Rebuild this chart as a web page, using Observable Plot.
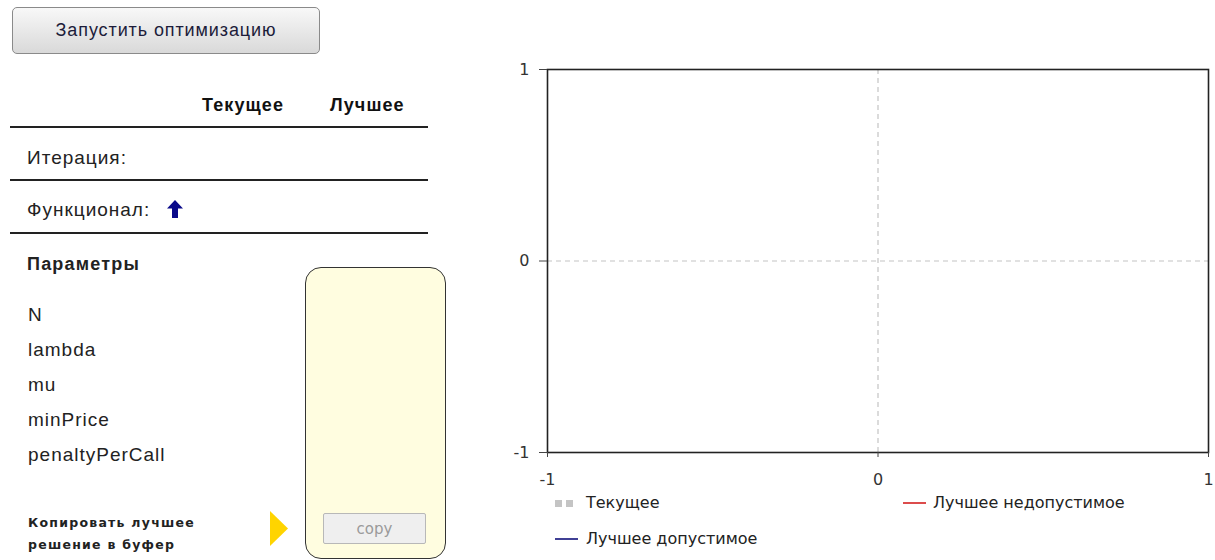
<!DOCTYPE html>
<html>
<head>
<meta charset="utf-8">
<script src="https://cdn.jsdelivr.net/npm/d3@7"></script>
<script src="https://cdn.jsdelivr.net/npm/@observablehq/plot@0.6"></script>
<style>
  html, body { margin: 0; padding: 0; background: #fff; width: 1215px; height: 560px; overflow: hidden; position: relative; font-family: "Liberation Sans", Arial, sans-serif; color: #111; }
  .abs { position: absolute; white-space: nowrap; }
  .btn { left: 12px; top: 7px; width: 308px; height: 47px; border: 1px solid #8a8a8a; border-radius: 5px;
         background: linear-gradient(#f8f8f8, #d9d9d9); box-sizing: border-box;
         display: flex; align-items: center; justify-content: center; font-size: 18px; letter-spacing: 0.9px; color: #1c1c3a; }
  .hdr { font-weight: bold; font-size: 18px; letter-spacing: 1.1px; top: 95px; }
  .hline { height: 2px; background: #222; left: 10px; width: 418px; }
  .lbl { font-size: 19px; letter-spacing: 1px; left: 27px; color: #222; }
  .param { font-size: 19px; left: 28px; color: #222; letter-spacing: 1px; }
  .small { font-size: 12.5px; font-weight: bold; left: 28px; letter-spacing: 1.25px; color: #222; font-family: "DejaVu Sans", sans-serif; }
  .yellow { left: 305px; top: 267px; width: 141px; height: 292px; border: 1.5px solid #333; border-radius: 16px; background: #fffde0; box-sizing: border-box; }
  .copy { left: 323px; top: 513px; width: 103px; height: 31px; border: 1.5px solid #b8b8b8; border-radius: 2px; background: #efefef; box-sizing: border-box;
          display: flex; align-items: center; justify-content: center; font-size: 15px; color: #9a9a9a; font-family: "DejaVu Sans", sans-serif; }
  .leg { font-family: "DejaVu Sans", sans-serif; font-size: 16px; color: #222; }
  #chart { position: absolute; left: 490px; top: 49px; }
</style>
</head>
<body>
<div class="abs btn">Запустить оптимизацию</div>
<div class="abs hdr" style="left:202px;">Текущее</div>
<div class="abs hdr" style="left:330px;">Лучшее</div>
<div class="abs hline" style="top:126px;"></div>
<div class="abs lbl" style="top:147px;">Итерация:</div>
<div class="abs hline" style="top:179px;"></div>
<div class="abs lbl" style="top:199px;">Функционал:</div>
<svg class="abs" style="left:167px;top:200px;" width="16" height="18" viewBox="0 0 16 18"><polygon points="8,0 16,8.5 11,8.5 11,18 5,18 5,8.5 0,8.5" fill="#0a0a8a"/></svg>
<div class="abs hline" style="top:232px;"></div>
<div class="abs lbl" style="top:254px;font-weight:bold;font-size:18px;letter-spacing:1.2px;">Параметры</div>
<div id="params"></div>
<div class="abs yellow"></div>
<div class="abs copy">copy</div>
<svg class="abs" style="left:270px;top:511px;" width="18" height="35"><polygon points="0,0 18,17.5 0,35" fill="#ffd400"/></svg>
<div class="abs small" style="top:515px;">Копировать лучшее</div>
<div class="abs small" style="top:537px;">решение в буфер</div>
<div id="chart"></div>
<div id="legend"></div>
<script>
// ---- data ----
const paramNames = ["N", "lambda", "mu", "minPrice", "penaltyPerCall"];
const xTicks = [-1, 0, 1];
const yTicks = [-1, 0, 1];
const currentSeries = [];        // Текущее (no points yet)
const bestFeasible = [];         // Лучшее допустимое
const bestInfeasible = [];       // Лучшее недопустимое
const legendNames = ["Текущее", "Лучшее недопустимое", "Лучшее допустимое"];
const legendColors = ["#c4c4c4", "#d42020", "#10107a"];

// parameter labels
const pc = document.getElementById("params");
paramNames.forEach((n, i) => {
  const d = document.createElement("div");
  d.className = "abs param";
  d.style.top = (304 + i * 35) + "px";
  d.textContent = n;
  pc.appendChild(d);
});

const chart = Plot.plot({
  width: 725,
  height: 450,
  marginLeft: 57,
  marginRight: 7,
  marginTop: 20,
  marginBottom: 47,
  style: { fontFamily: "DejaVu Sans, sans-serif", fontSize: "16px", color: "#333", background: "transparent", overflow: "visible" },
  x: { domain: [-1, 1] },
  y: { domain: [-1, 1] },
  marks: [
    Plot.ruleX([0], { stroke: "#c4c4c4", strokeWidth: 1.2, strokeDasharray: "5,4" }),
    Plot.ruleY([0], { stroke: "#c4c4c4", strokeWidth: 1.2, strokeDasharray: "5,4" }),
    Plot.line(currentSeries, { x: "x", y: "y", stroke: legendColors[0], strokeDasharray: "5,4" }),
    Plot.line(bestInfeasible, { x: "x", y: "y", stroke: legendColors[1] }),
    Plot.line(bestFeasible, { x: "x", y: "y", stroke: legendColors[2] }),
    Plot.frame({ stroke: "#222", strokeWidth: 1.6 }),
    Plot.axisY({ ticks: yTicks, tickFormat: d => String(d), tickSize: 8, tickPadding: 10, label: null, stroke: "#444" }),
    Plot.axisX({ ticks: xTicks, tickFormat: d => String(d), tickSize: 5, tickPadding: 16, label: null, stroke: "#444" })
  ]
});
document.getElementById("chart").appendChild(chart);

// legend
const lg = document.getElementById("legend");
const legendPos = [[555, 494], [903, 494], [555, 530]];
legendNames.forEach((name, i) => {
  const [lx, ly] = legendPos[i];
  const sw = document.createElement("div");
  sw.className = "abs";
  sw.style.left = lx + "px";
  sw.style.top = ly + "px";
  if (i === 0) {
    sw.innerHTML = `<svg width="20" height="18"><rect x="0" y="6" width="7" height="7" fill="${legendColors[0]}"/><rect x="11" y="6" width="7" height="7" fill="${legendColors[0]}"/></svg>`;
  } else {
    sw.innerHTML = `<svg width="24" height="18"><line x1="0" x2="23" y1="9" y2="9" stroke="${legendColors[i]}" stroke-width="1.6"/></svg>`;
  }
  lg.appendChild(sw);
  const t = document.createElement("div");
  t.className = "abs leg";
  t.style.left = (lx + (i === 1 ? 30 : 31)) + "px";
  t.style.top = (ly - 1) + "px";
  t.textContent = name;
  lg.appendChild(t);
});
</script>
</body>
</html>
